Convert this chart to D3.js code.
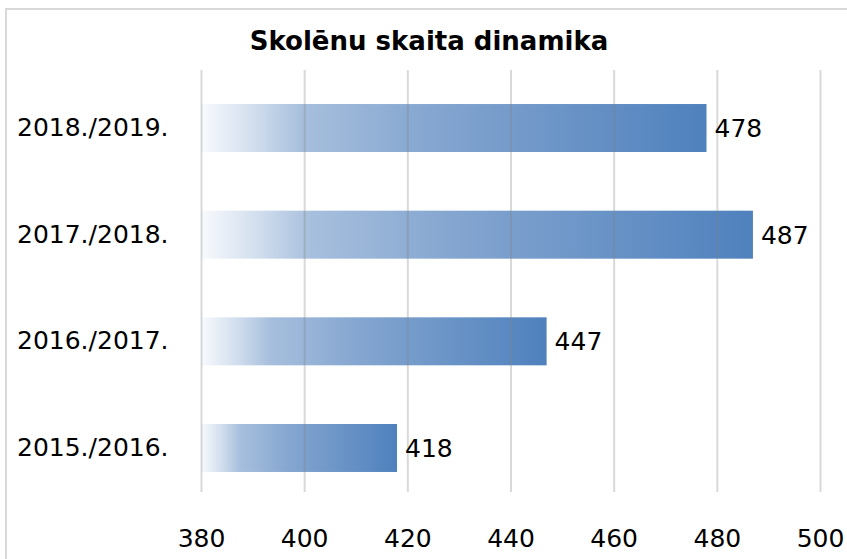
<!DOCTYPE html>
<html>
<head>
<meta charset="utf-8">
<script src="https://cdn.jsdelivr.net/npm/d3@7"></script>
<style>
  body { margin: 0; background: #fff; }
  text { font-family: "DejaVu Sans", sans-serif; fill: #000; }
</style>
</head>
<body>
<div id="chart"></div>
<script>
const years  = ["2018./2019.", "2017./2018.", "2016./2017.", "2015./2016."];
const pupils = [478, 487, 447, 418];
const ticks  = [380, 400, 420, 440, 460, 480, 500];
const title  = "Skolēnu skaita dinamika";

const width  = 847;
const height = 559;

const svg = d3.select("#chart")
    .append("svg")
    .attr("width", width)
    .attr("height", height)

// chart frame
svg.append("path")
    .attr("d", `M6,${height} V9 H${width}`)
    .attr("fill", "none")
    .attr("stroke", "#d9d9d9")
    .attr("stroke-width", 2)

const defs = svg.append("defs")
const grad = defs.append("linearGradient")
    .attr("id", "barGrad")
    .attr("x1", 0).attr("x2", 1).attr("y1", 0).attr("y2", 0)
const stops = [[0, "#f8fafd"], [0.1, "#d3dfee"], [0.2, "#a7bfdd"], [0.45, "#85a6d0"], [1, "#4f81bd"]]
stops.forEach(s => grad.append("stop").attr("offset", s[0]).attr("stop-color", s[1]))

const x = d3.scaleLinear().domain([380, 500]).range([201, 820])
const y = d3.scaleBand().domain(years).range([74.7, 501.3])
    .paddingInner(0.55).paddingOuter(0.275)

svg.append("text")
    .text(title)
    .attr("x", 429)
    .attr("y", 50)
    .attr("text-anchor", "middle")
    .attr("font-size", 26)
    .attr("font-weight", "bold")

// bars
svg.selectAll("rect.bar")
    .data(years)
    .join("rect")
    .attr("class", "bar")
    .attr("x", x(380))
    .attr("y", d => y(d))
    .attr("width", (d, i) => x(pupils[i]) - x(380))
    .attr("height", y.bandwidth())
    .attr("fill", "url(#barGrad)")

// gridlines over bars, semi transparent
const xAxis = d3.axisBottom(x).tickValues(ticks).tickSize(-(492 - 70)).tickPadding(32)
const xAxisGroup = svg.append("g")
    .attr("transform", "translate(0, 492)")
    .call(xAxis)
xAxisGroup.select(".domain").remove()
xAxisGroup.selectAll(".tick line")
    .attr("stroke", "#808080")
    .attr("stroke-opacity", 0.3)
    .attr("stroke-width", 2)
xAxisGroup.selectAll(".tick text")
    .attr("font-size", 25)
    .attr("font-family", "DejaVu Sans")
    .attr("fill", "#000")
    .attr("dy", "0.9em")

// category labels
const yAxis = d3.axisLeft(y).tickSize(0).tickPadding(0)
const yAxisGroup = svg.append("g")
    .attr("transform", "translate(17, 0)")
    .call(yAxis)
yAxisGroup.select(".domain").remove()
yAxisGroup.selectAll(".tick text")
    .attr("text-anchor", "start")
    .attr("x", 0)
    .attr("font-size", 25)
    .attr("font-family", "DejaVu Sans")
    .attr("fill", "#000")

// value labels
svg.selectAll("text.val")
    .data(years)
    .join("text")
    .attr("class", "val")
    .text((d, i) => pupils[i])
    .attr("x", (d, i) => x(pupils[i]) + 8)
    .attr("y", d => y(d) + y.bandwidth() / 2)
    .attr("dy", "0.36em")
    .attr("font-size", 25)
</script>
</body>
</html>
